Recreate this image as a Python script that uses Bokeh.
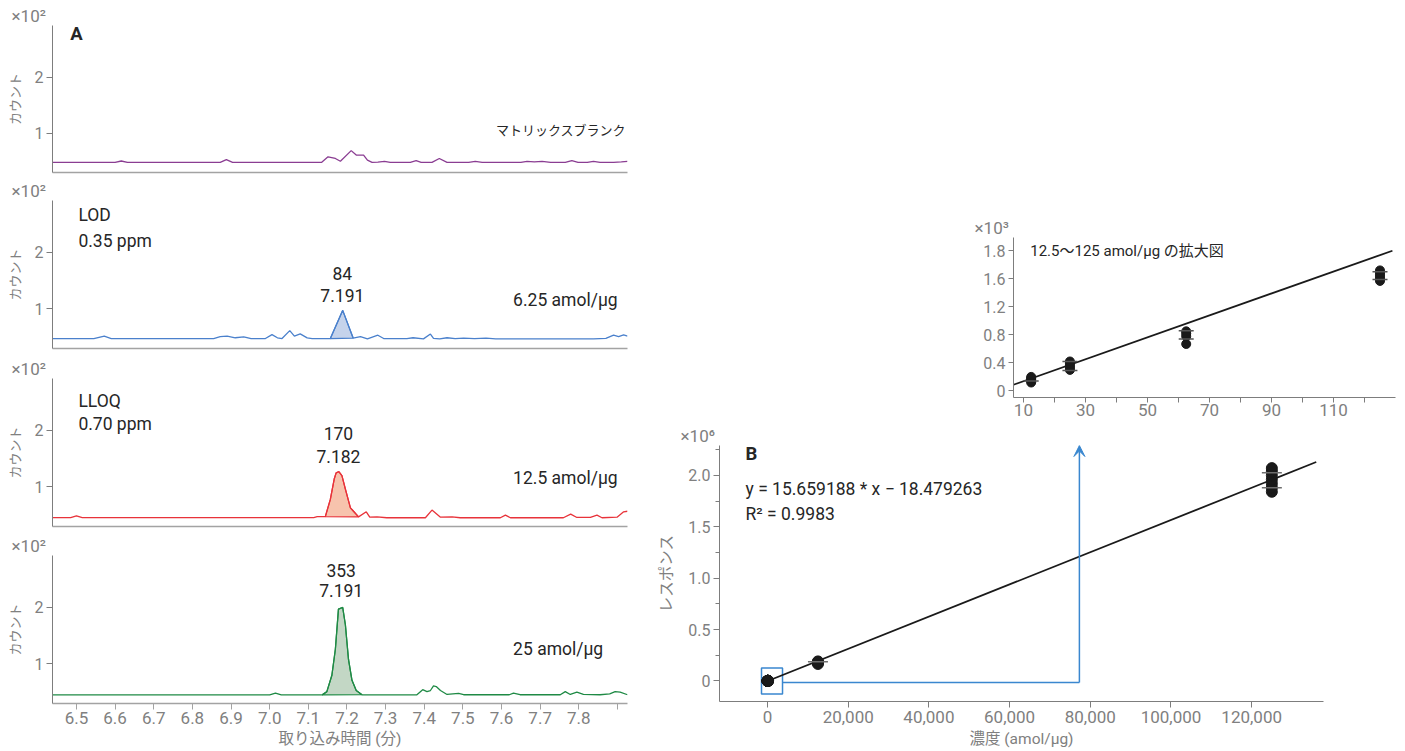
import numpy as np
from bokeh.plotting import figure
from bokeh.layouts import row, column, Spacer
from bokeh.models import (FixedTicker, Label, Arrow, VeeHead, Range1d,
                          PrintfTickFormatter, NumeralTickFormatter)
from bokeh.embed import file_html
from bokeh.resources import INLINE

# ---------------- data: chromatograms (time in min, counts in x10^2) ----------------
blank_t = [6.438, 6.600, 6.616, 6.632, 6.872, 6.888, 6.904, 7.134, 7.151, 7.170, 7.183, 7.211,
           7.224, 7.243, 7.253, 7.265, 7.280, 7.297, 7.312, 7.364, 7.379, 7.392, 7.420, 7.439,
           7.459, 7.515, 7.532, 7.550, 7.650, 7.666, 7.685, 7.705, 7.727, 7.765, 7.782, 7.798,
           7.822, 7.838, 7.855, 7.890, 7.910, 7.926]
blank_v = [0.48, 0.48, 0.505, 0.48, 0.48, 0.53, 0.48, 0.48, 0.58, 0.55, 0.50, 0.69,
           0.61, 0.61, 0.52, 0.48, 0.485, 0.50, 0.48, 0.48, 0.51, 0.48, 0.48, 0.55,
           0.48, 0.48, 0.50, 0.48, 0.48, 0.50, 0.49, 0.50, 0.48, 0.48, 0.51, 0.48,
           0.48, 0.50, 0.48, 0.48, 0.49, 0.50]

lod_t = [6.438, 6.545, 6.572, 6.590, 6.855, 6.872, 6.890, 6.911, 6.933, 6.952, 6.989, 7.006,
         7.020, 7.032, 7.052, 7.064, 7.079, 7.097, 7.110, 7.157, 7.189, 7.216, 7.235, 7.253,
         7.280, 7.295, 7.355, 7.371, 7.398, 7.416, 7.424, 7.440, 7.459, 7.480, 7.502, 7.530,
         7.560, 7.585, 7.626, 7.838, 7.870, 7.890, 7.903, 7.916, 7.926]
lod_v = [0.476, 0.476, 0.52, 0.476, 0.476, 0.51, 0.52, 0.49, 0.505, 0.476, 0.476, 0.545,
         0.49, 0.476, 0.616, 0.52, 0.558, 0.488, 0.476, 0.476, 0.975, 0.485, 0.51, 0.47,
         0.535, 0.476, 0.476, 0.49, 0.47, 0.556, 0.48, 0.47, 0.49, 0.475, 0.485, 0.475,
         0.485, 0.47, 0.47, 0.47, 0.48, 0.535, 0.51, 0.54, 0.52]

lloq_t = [6.438, 6.485, 6.500, 6.515, 7.114, 7.123, 7.144, 7.157, 7.167, 7.172, 7.179, 7.187,
          7.196, 7.209, 7.217, 7.230, 7.250, 7.259, 7.278, 7.303, 7.403, 7.420, 7.442, 7.472,
          7.493, 7.597, 7.610, 7.623, 7.760, 7.779, 7.795, 7.830, 7.847, 7.860, 7.899, 7.916,
          7.926]
lloq_v = [0.458, 0.458, 0.49, 0.458, 0.458, 0.475, 0.475, 0.78, 1.14, 1.25, 1.27, 1.20,
          0.96, 0.63, 0.57, 0.47, 0.56, 0.465, 0.47, 0.455, 0.455, 0.59, 0.465, 0.47,
          0.455, 0.455, 0.50, 0.455, 0.455, 0.52, 0.46, 0.46, 0.50, 0.455, 0.465, 0.56,
          0.57]

c25_t = [6.438, 7.000, 7.015, 7.030, 7.136, 7.148, 7.161, 7.170, 7.178, 7.189, 7.196, 7.204,
         7.213, 7.224, 7.239, 7.381, 7.396, 7.407, 7.416, 7.424, 7.431, 7.442, 7.459, 7.489,
         7.502, 7.620, 7.631, 7.648, 7.752, 7.765, 7.778, 7.795, 7.812, 7.855, 7.880, 7.894,
         7.907, 7.926]
c25_v = [0.453, 0.453, 0.485, 0.453, 0.453, 0.51, 0.80, 1.26, 1.97, 2.00, 1.69, 1.08,
         0.71, 0.53, 0.455, 0.453, 0.545, 0.51, 0.53, 0.61, 0.60, 0.53, 0.46, 0.48,
         0.455, 0.455, 0.485, 0.455, 0.455, 0.51, 0.46, 0.50, 0.46, 0.455, 0.47, 0.51,
         0.50, 0.455]

peak_windows = {"lod": (7.157, 7.216), "lloq": (7.144, 7.230), "c25": (7.136, 7.239)}
time_ticks = [6.5, 6.6, 6.7, 6.8, 6.9, 7.0, 7.1, 7.2, 7.3, 7.4, 7.5, 7.6, 7.7, 7.8, 7.9]

# ---------------- data: calibration ----------------
cal_x_low = [12.5] * 5 + [25] * 5 + [62.5] * 4 + [125] * 6          # amol/ug
cal_y_low = [0.12, 0.14, 0.16, 0.18, 0.20, 0.30, 0.33, 0.36, 0.39, 0.42,
             0.67, 0.78, 0.82, 0.85, 1.57, 1.60, 1.63, 1.66, 1.69, 1.72]   # x10^3
sd_x_low = [12.5, 25, 25, 62.5, 62.5, 125, 125]
sd_y_low = [0.14, 0.29, 0.42, 0.74, 0.86, 1.59, 1.70]
inset_fit_x = [6.8, 129.0]
inset_fit_y = [0.088, 2.001]

cal_x_high = [12500] * 4 + [125000] * 7
cal_y_high = [0.165, 0.175, 0.185, 0.19, 1.84, 1.88, 1.92, 1.96, 2.00, 2.04, 2.07]   # x10^6
sd_x_high = [12500, 125000, 125000]
sd_y_high = [0.187, 1.879, 2.024]
main_fit_x = [-1200, 136000]
main_fit_y = [-0.0204, 2.1296]
zoom_box = [-1490, 3720, -0.126, 0.126]          # left, right, bottom, top
link_x = [3720, 77300]
link_y = [-0.016, -0.016]
arrow_top = 2.29

# ---------------- styles ----------------
GRAY = "#808080"
AX = "#7d7d7d"
TXT = "#262626"
LATIN = "Roboto"
CJK = "'Noto Sans CJK JP'"
MIX = "Roboto, 'Noto Sans CJK JP', sans-serif"
BLUE_LINK = "#3a87cf"
ANN = "17.5px"


def base_fig(width, height, xr, yr, ml, mr, mt, mb):
    p = figure(width=width, height=height, x_range=Range1d(*xr), y_range=Range1d(*yr),
               output_backend="svg", toolbar_location=None,
               min_border_left=ml, min_border_right=mr, min_border_top=mt, min_border_bottom=mb)
    p.outline_line_color = None
    p.grid.visible = False
    p.background_fill_color = "white"
    p.border_fill_color = "white"
    for ax in p.axis:
        ax.axis_line_color = AX
        ax.major_tick_line_color = AX
        ax.minor_tick_line_color = None
        ax.major_tick_in = 0
        ax.major_tick_out = 6
        ax.major_label_text_color = GRAY
        ax.major_label_text_font = LATIN
        ax.axis_label_text_color = GRAY
        ax.axis_label_text_font = MIX
        ax.axis_label_text_font_style = "normal"
        ax.axis_label_text_font_size = "15.5px"
    return p


def exp_title(p, text, offset):
    p.title.text = text
    p.title.align = "left"
    p.title.offset = offset
    p.title.standoff = 0
    p.title.text_font = LATIN
    p.title.text_font_size = "17px"
    p.title.text_font_style = "normal"
    p.title.text_color = GRAY


def label(p, x, y, text, size=ANN, align="left", font=LATIN, style="normal"):
    p.add_layout(Label(x=x, y=y, text=text, text_font=font, text_font_size=size,
                       text_align=align, text_baseline="middle", text_color=TXT,
                       text_font_style=style))


def chrom(t, v, color, fill, window, height, mt, mb, bottom_axis):
    p = base_fig(645, height, (6.438, 7.926), (0.3, 2.92), 52, 18, mt, mb)
    exp_title(p, "×10²", -41)
    t = np.array(t)
    v = np.array(v)
    if window is not None:
        m = (t >= window[0]) & (t <= window[1])
        p.patch(t[m], v[m], fill_color=fill, line_color=color, line_width=1.2)
    p.line(t, v, line_color=color, line_width=1.3)
    ya = p.yaxis[0]
    ya.ticker = FixedTicker(ticks=[1, 2])
    ya.major_label_text_font_size = "16px"
    ya.major_label_standoff = 3
    ya.axis_label = "カウント"
    ya.axis_label_text_font_size = "13px"
    ya.axis_label_standoff = 8
    ya.axis_label_text_font = CJK
    xa = p.xaxis[0]
    xa.axis_line_color = "#a3a3a3"
    xa.axis_line_width = 1.6
    if bottom_axis:
        xa.ticker = FixedTicker(ticks=time_ticks)
        xa.formatter = PrintfTickFormatter(format="%.1f")
        xa.major_label_overrides = {7.9: ""}
        xa.major_label_text_font_size = "17px"
        xa.major_label_standoff = 2
        xa.major_tick_line_color = "#a3a3a3"
        xa.axis_label = "取り込み時間 (分)"
        xa.axis_label_standoff = 3
    else:
        xa.ticker = FixedTicker(ticks=[])
        xa.major_label_text_font_size = "0px"
        xa.major_tick_out = 0
        xa.major_label_standoff = 0
    return p


p1 = chrom(blank_t, blank_v, "#8a3d92", None, None, 177, 25, 5, False)
label(p1, 6.484, 2.76, "A", size="18.5px", style="bold")
label(p1, 7.922, 1.06, "マトリックスブランク", size="13px", align="right", font=CJK)

p2 = chrom(lod_t, lod_v, "#4a80cc", "#c5d3eb", peak_windows["lod"], 177, 23, 6, False)
label(p2, 6.505, 2.67, "LOD")
label(p2, 6.505, 2.21, "0.35 ppm")
label(p2, 7.188, 1.63, "84", align="center")
label(p2, 7.188, 1.23, "7.191", align="center")
label(p2, 7.630, 1.15, "6.25 amol/µg")

p3 = chrom(lloq_t, lloq_v, "#e8333a", "#f7c3ad", peak_windows["lloq"], 177, 24, 5, False)
label(p3, 6.505, 2.53, "LLOQ")
label(p3, 6.505, 2.12, "0.70 ppm")
label(p3, 7.178, 1.95, "170", align="center")
label(p3, 7.178, 1.54, "7.182", align="center")
label(p3, 7.630, 1.15, "12.5 amol/µg")

p4 = chrom(c25_t, c25_v, "#1f8a45", "#c3d7c5", peak_windows["c25"], 220, 24, 48, True)
label(p4, 7.185, 2.65, "353", align="center")
label(p4, 7.185, 2.30, "7.191", align="center")
label(p4, 7.630, 1.26, "25 amol/µg")

# ---------------- inset ----------------
pi = base_fig(440, 215, (6.8, 130), (-0.094, 2.19), 48, 10, 29, 26)
exp_title(pi, "×10³", -39)
pi.line(inset_fit_x, inset_fit_y, line_color="#1a1a1a", line_width=1.8)
pi.scatter(cal_x_low, cal_y_low, size=9, fill_color="#1a1a1a", line_color="#1a1a1a")
pi.scatter(sd_x_low, sd_y_low, marker="dash", size=15, line_color="#555555", line_width=1.5)
pi.xaxis.ticker = FixedTicker(ticks=[10, 20, 30, 40, 50, 60, 70, 80, 90, 100, 110, 120])
pi.xaxis.major_label_overrides = {20: "", 40: "", 60: "", 80: "", 100: "", 120: ""}
pi.xaxis.major_label_text_font_size = "17px"
pi.xaxis.major_label_standoff = 1
pi.xaxis.major_tick_out = 5
pi.yaxis.ticker = FixedTicker(ticks=[0, 0.4, 0.8, 1.2, 1.6, 2.0])
pi.yaxis.major_label_overrides = {0: "0", 0.4: "0.4", 0.8: "0.8", 1.2: "1.2", 1.6: "1.6", 2.0: "1.8"}
pi.yaxis.major_label_text_font_size = "16px"
pi.yaxis.major_label_standoff = 3
pi.yaxis.major_tick_out = 5
label(pi, 12.2, 2.0, "12.5〜125 amol/µg の拡大図", size="15px", font=MIX)

# ---------------- main calibration ----------------
pb = base_fig(760, 328, (-11900, 137800), (-0.2, 2.29), 74, 82, 20, 50)
exp_title(pb, "×10⁶", -39)
pb.quad(left=[zoom_box[0]], right=[zoom_box[1]], bottom=[zoom_box[2]], top=[zoom_box[3]],
        fill_color=None, line_color=BLUE_LINK, line_width=1.5)
pb.line(link_x, link_y, line_color=BLUE_LINK, line_width=1.5)
pb.add_layout(Arrow(x_start=link_x[1], y_start=link_y[1], x_end=link_x[1], y_end=arrow_top,
                    line_color=BLUE_LINK, line_width=1.5,
                    end=VeeHead(size=11, fill_color=BLUE_LINK, line_color=BLUE_LINK)))
pb.line(main_fit_x, main_fit_y, line_color="#1a1a1a", line_width=1.8)
pb.scatter(cal_x_low, [y / 1000 for y in cal_y_low], size=11,
           fill_color="#1a1a1a", line_color="#1a1a1a")
pb.scatter(cal_x_high, cal_y_high, size=11, fill_color="#1a1a1a", line_color="#1a1a1a")
pb.scatter(sd_x_high, sd_y_high, marker="dash", size=20, line_color="#6e6e6e", line_width=1.5)
pb.xaxis.ticker = FixedTicker(ticks=[0, 20000, 40000, 60000, 80000, 100000, 120000])
pb.xaxis.formatter = NumeralTickFormatter(format="0,0")
pb.xaxis.major_label_text_font_size = "17px"
pb.xaxis.major_label_standoff = 3
pb.xaxis.axis_label = "濃度 (amol/µg)"
pb.xaxis.axis_label_standoff = 4
pb.yaxis.ticker = FixedTicker(ticks=[0, 0.5, 1.0, 1.5, 2.0],
                              minor_ticks=[-0.25, 0.25, 0.75, 1.25, 1.75, 2.25])
pb.yaxis.major_label_overrides = {0: "0", 0.5: "0.5", 1.0: "1.0", 1.5: "1.5", 2.0: "2.0"}
pb.yaxis.major_label_text_font_size = "16px"
pb.yaxis.major_label_standoff = 3
pb.yaxis.minor_tick_line_color = AX
pb.yaxis.minor_tick_out = 4
pb.yaxis.minor_tick_in = 0
pb.yaxis.axis_label = "レスポンス"
pb.yaxis.axis_label_standoff = 9
pb.yaxis.axis_label_text_font = CJK
label(pb, -5450, 2.205, "B", size="18.5px", style="bold")
label(pb, -5450, 1.867, "y = 15.659188 * x  − 18.479263")
label(pb, -5450, 1.625, "R² = 0.9983")

left = column(p1, p2, p3, p4)
right = column(Spacer(width=760, height=208), row(Spacer(width=320, height=215), pi), pb)
layout = row(left, right)

open("out.html", "w").write(file_html(layout, INLINE, "calibration"))
